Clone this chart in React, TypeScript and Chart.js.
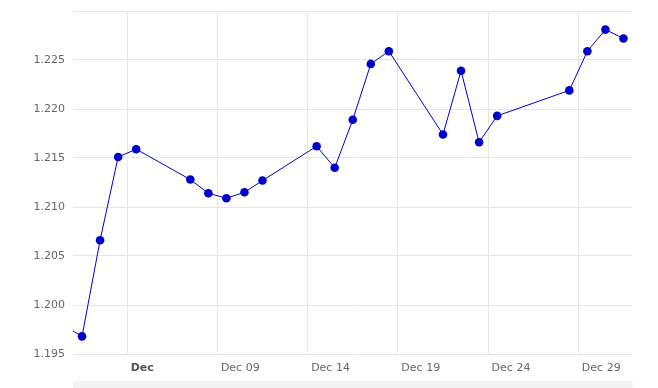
import React, { useEffect, useRef } from "react";
import { Chart, registerables } from "chart.js";

Chart.register(...registerables);

// Trading days in December (day of month); first entry is Nov 30 (day 0)
const days = [0, 1, 2, 3, 4, 7, 8, 9, 10, 11, 14, 15, 16, 17, 18, 21, 22, 23, 24, 28, 29, 30, 31];
const values = [
  1.1979, 1.1968, 1.2066, 1.2151, 1.2159, 1.2128, 1.2114, 1.2109, 1.2115, 1.2127,
  1.2162, 1.214, 1.2189, 1.2246, 1.2259, 1.2174, 1.2239, 1.2166, 1.2193,
  1.2219, 1.2259, 1.2281, 1.2272,
];
const xTickPositions = [3.5, 8.5, 13.5, 18.5, 23.5, 28.5];
const xTickLabels = ["Dec", "Dec 09", "Dec 14", "Dec 19", "Dec 24", "Dec 29"];
const yMin = 1.195;
const yMax = 1.23;
const yStep = 0.005;

export default function App() {
  const ref = useRef<HTMLCanvasElement | null>(null);

  useEffect(() => {
    document.body.style.margin = "0";
    const canvas = ref.current;
    if (!canvas) return;
    const bandPlugin = {
      id: "band",
      afterDraw(chart: any) {
        const { ctx, chartArea } = chart;
        ctx.save();
        ctx.fillStyle = "#f3f3f3";
        ctx.fillRect(chartArea.left, 381, chartArea.right - chartArea.left, 7);
        ctx.restore();
      },
    };
    const chart = new Chart(canvas, {
      type: "line",
      data: {
        datasets: [
          {
            data: days.map((d, i) => ({ x: d, y: values[i] })),
            borderColor: "#0000cc",
            borderWidth: 1,
            backgroundColor: "#0000cc",
            pointBackgroundColor: "#0000cc",
            pointBorderWidth: 0,
            pointRadius: 4.3,
            tension: 0,
            fill: false,
          },
        ],
      },
      options: {
        animation: false,
        responsive: false,
        maintainAspectRatio: false,
        layout: { padding: { left: 0, right: 25.5, top: 11, bottom: 0 } },
        plugins: { legend: { display: false }, tooltip: { enabled: false } },
        scales: {
          x: {
            type: "linear",
            min: 0.5,
            max: 31.5,
            afterBuildTicks(scale: any) {
              scale.ticks = xTickPositions.map((v) => ({ value: v }));
            },
            afterFit(scale: any) {
              scale.height = 34;
              scale.paddingLeft = 0;
              scale.paddingRight = 0;
            },
            grid: { color: "#e6e6e6", drawTicks: false, lineWidth: 1 },
            border: { display: false },
            ticks: {
              autoSkip: false,
              maxRotation: 0,
              align: "start",
              labelOffset: 3.5,
              padding: 8,
              color: (c: any) => (c.index === 0 ? "#555" : "#666"),
              font: (c: any) => ({
                family: "'DejaVu Sans', Verdana, sans-serif",
                size: 11,
                weight: c.index === 0 ? "bold" : "normal",
              }),
              callback: (_v: any, i: number) => xTickLabels[i],
            },
          },
          y: {
            min: yMin,
            max: yMax,
            afterFit(scale: any) {
              scale.width = 73;
              scale.paddingTop = 0;
              scale.paddingBottom = 0;
            },
            grid: { color: "#e6e6e6", drawTicks: false, lineWidth: 1 },
            border: { display: false },
            ticks: {
              stepSize: yStep,
              padding: 8,
              color: "#666",
              font: { family: "'DejaVu Sans', Verdana, sans-serif", size: 11 },
              callback: (v: any) => (Math.abs(v - yMax) < 1e-9 ? "" : Number(v).toFixed(3)),
            },
          },
        },
      },
      plugins: [bandPlugin],
    });
    return () => chart.destroy();
  }, []);

  return (
    <div style={{ width: 658, height: 388, position: "relative" }}>
      <canvas ref={ref} width={658} height={388} style={{ display: "block" }} />
    </div>
  );
}
